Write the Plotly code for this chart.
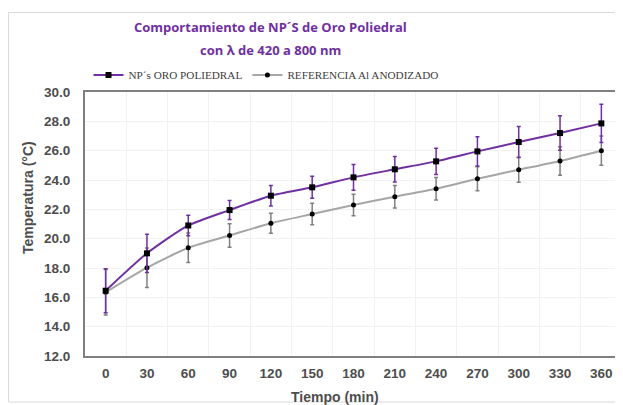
import plotly.graph_objects as go

tiempo = [0, 30, 60, 90, 120, 150, 180, 210, 240, 270, 300, 330, 360]
np_oro = [16.45, 19.0, 20.9, 21.95, 22.93, 23.5, 24.18, 24.73, 25.27, 25.95, 26.59, 27.2, 27.86]
np_err = [1.5, 1.3, 0.7, 0.65, 0.7, 0.75, 0.88, 0.87, 0.9, 1.0, 1.05, 1.18, 1.3]
ref = [16.34, 18.02, 19.38, 20.22, 21.05, 21.68, 22.3, 22.86, 23.4, 24.09, 24.7, 25.3, 26.0]
ref_err = [1.55, 1.35, 1.0, 0.8, 0.68, 0.73, 0.73, 0.77, 0.77, 0.82, 0.85, 0.97, 1.0]
y_ticks = [12, 14, 16, 18, 20, 22, 24, 26, 28, 30]

PURPLE = "#7030A0"
GRAY = "#A6A6A6"
TXT = "#4D4D4D"

# page body has an 8px margin; compensate so the plot lands where the reference has it
OFF = 8
W, H = 623 - OFF, 405 - OFF
L, T, R, B = 85, 92, 622, 356  # plot area edges in reference pixels
PW, PH = R - L, B - T


def px(xr):
    return (xr - L) / PW


def py(yr):
    return (B - yr) / PH


fig = go.Figure()
fig.add_trace(go.Scatter(
    x=tiempo, y=ref, name="REFERENCIA Al ANODIZADO", mode="lines+markers",
    line=dict(color=GRAY, width=2, shape="spline", smoothing=0.6),
    marker=dict(symbol="circle", size=5, color="black"),
    error_y=dict(type="data", array=ref_err, color="#808080", thickness=1.5, width=2),
))
fig.add_trace(go.Scatter(
    x=tiempo, y=np_oro, name="NP´s ORO POLIEDRAL", mode="lines+markers",
    line=dict(color=PURPLE, width=2, shape="spline", smoothing=0.6),
    marker=dict(symbol="square", size=6, color="black"),
    error_y=dict(type="data", array=np_err, color=PURPLE, thickness=1.5, width=2),
))

title_font = dict(family="Open Sans", size=13, color=PURPLE)
fig.update_layout(
    width=W, height=H,
    margin=dict(l=L - OFF, r=W - (R - OFF), t=T - OFF, b=H - (B - OFF), autoexpand=False),
    paper_bgcolor="white", plot_bgcolor="white",
    legend=dict(
        orientation="h", x=px(266), xanchor="center", y=py(75), yanchor="middle",
        font=dict(family="Liberation Serif", size=11.2, color="#404040"),
        traceorder="reversed", itemwidth=30, bgcolor="rgba(0,0,0,0)",
    ),
    showlegend=True,
    annotations=[
        dict(text="<b>Comportamiento de NP´S de Oro Poliedral</b>", xref="paper", yref="paper",
             x=px(270.5), y=py(27), xanchor="center", yanchor="middle",
             showarrow=False, font=title_font),
        dict(text="<b>con λ de 420 a 800 nm</b>", xref="paper", yref="paper",
             x=px(270.5), y=py(50), xanchor="center", yanchor="middle",
             showarrow=False, font=title_font),
        dict(text="<b>Temperatura (°C)</b>", xref="paper", yref="paper",
             x=px(28), y=py(198), xanchor="center", yanchor="middle",
             textangle=-90, showarrow=False,
             font=dict(family="Arial", size=14, color=TXT)),
        dict(text="<b>Tiempo (min)</b>", xref="paper", yref="paper",
             x=px(334.5), y=py(397), xanchor="center", yanchor="middle",
             showarrow=False,
             font=dict(family="Arial", size=14, color=TXT)),
    ],
)
fig.update_xaxes(
    type="linear", range=[-15, 375], tickvals=tiempo, ticktext=[str(t) for t in tiempo],
    showgrid=False,
    minor=dict(tick0=15, dtick=30, showgrid=True, gridcolor="#F2F2F2", gridwidth=1),
    showline=True, linecolor="#7F7F7F", linewidth=2, mirror=True,
    tickfont=dict(family="Arial", size=13.5, color=TXT, weight="bold"),
    ticks="", zeroline=False, automargin=False, ticklabelstandoff=4,
)
fig.update_yaxes(
    range=[12, 30], tickvals=y_ticks, ticktext=[f"{v:.1f}" for v in y_ticks],
    showgrid=True, gridcolor="#F2F2F2", gridwidth=1,
    showline=True, linecolor="#7F7F7F", linewidth=2, mirror=True,
    tickfont=dict(family="Arial", size=13.5, color=TXT, weight="bold"),
    ticks="", zeroline=False, automargin=False, ticklabelstandoff=10,
)
fig.add_shape(type="rect", xref="paper", yref="paper",
              x0=px(8.5), x1=px(640), y0=py(402), y1=py(12.5),
              line=dict(color="#D9D9D9", width=1), fillcolor="rgba(0,0,0,0)", layer="below")

fig.write_html("out.html")
